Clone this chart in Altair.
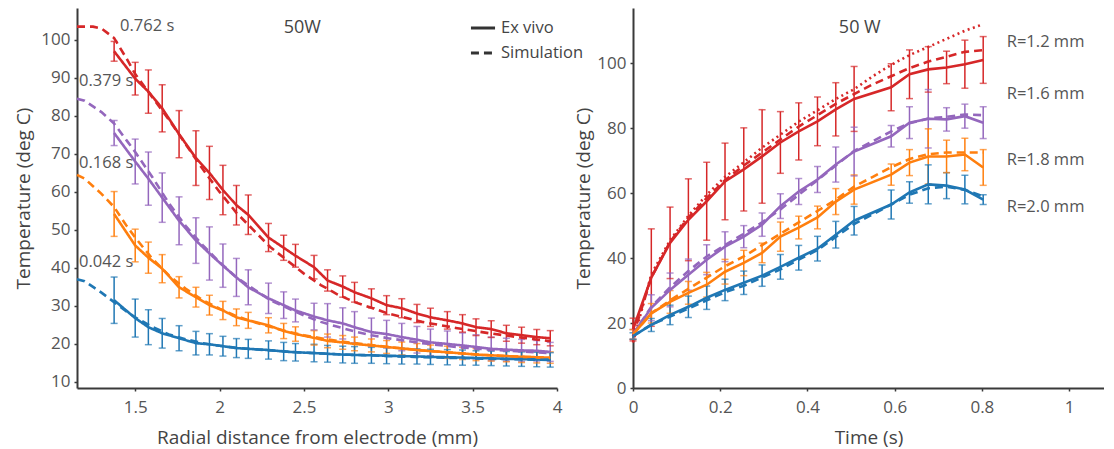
import altair as alt
import pandas as pd

FONT = "Open Sans"
SERIES = ["blue", "orange", "purple", "red"]
PALETTE = ["#1f77b4", "#ff7f0e", "#9467bd", "#d62728"]

# ---------------- left panel: temperature vs radial distance ----------------
radial_x = [1.375, 1.50, 1.578, 1.66, 1.76, 1.86, 1.94, 2.02, 2.10, 2.17,
            2.29, 2.38, 2.45, 2.56, 2.64, 2.73, 2.80, 2.90, 2.99, 3.08,
            3.17, 3.25, 3.35, 3.44, 3.52, 3.61, 3.70, 3.79, 3.88, 3.96]

red_ex = [97, 89.8, 86.4, 82, 75.2, 68.9, 65, 60.5, 56.5, 54,
          48, 45.3, 43.2, 40.2, 36.7, 35.1, 33.6, 32, 30.2, 29.4,
          28, 27, 26.2, 25.4, 24.4, 23.9, 22.8, 22.3, 21.8, 21.5]
red_err = [2.6, 4.3, 5.7, 6.2, 6.2, 7.2, 7, 6.5, 5.2, 5.2,
           3.7, 3.3, 3, 3.1, 2.8, 2.8, 2.6, 2.5, 2.5, 2.5,
           2.4, 2.4, 2.3, 2.3, 2.2, 2.2, 2.1, 2.1, 2.0, 2.0]
purple_ex = [75.5, 68, 63.5, 58.5, 52.4, 47.2, 43.8, 40.6, 37.5, 34.9,
             32, 30.2, 28.8, 27.2, 26.2, 25.4, 24.4, 23.1, 22.6, 21.8,
             21.1, 20.4, 20, 19.6, 19.2, 18.7, 18.5, 18.3, 18.2, 17.9]
purple_err = [3.3, 5.9, 7, 6.5, 6.3, 6, 7, 5.7, 5, 4.6,
              4, 3.5, 3, 3.5, 4.4, 4.1, 4.1, 3.7, 3.6, 3.6,
              3.5, 3.5, 3.4, 3.3, 3.2, 3.1, 3, 2.9, 2.7, 2.5]
orange_ex = [54.2, 45.9, 42.7, 39.8, 34.9, 32.3, 30.2, 28.8, 27, 26.2,
             24.9, 23.4, 22.6, 21.6, 20.8, 20.4, 20, 19.6, 19.2, 18.8,
             18.4, 18.1, 17.8, 17.5, 17.2, 17, 16.8, 16.6, 16.5, 16.4]
orange_err = [5.9, 4.3, 4.1, 3.7, 2.8, 2.6, 2.6, 2.4, 2.2, 2.1,
              2, 2, 1.9, 1.9, 1.8, 1.8, 1.8, 1.7, 1.7, 1.7,
              1.7, 1.6, 1.6, 1.6, 1.6, 1.5, 1.5, 1.5, 1.5, 1.5]
blue_ex = [31.5, 26.8, 24.4, 22.8, 21.5, 20.2, 19.9, 19.4, 18.9, 18.7,
           18.4, 18, 17.8, 17.6, 17.4, 17.2, 17.1, 17, 16.9, 16.8,
           16.7, 16.6, 16.5, 16.4, 16.3, 16.2, 16.1, 16.0, 15.9, 15.8]
blue_err = [6.1, 5, 4.6, 3.9, 3.3, 3.1, 2.8, 2.6, 2.5, 2.5,
            2.4, 2.4, 2.3, 2.3, 2.2, 2.2, 2.2, 2.1, 2.1, 2.1,
            2.0, 2.0, 2.0, 2.0, 1.9, 1.9, 1.9, 1.9, 1.9, 1.9]

radial_sim_x = [1.155, 1.2, 1.25, 1.3, 1.375, 1.45, 1.5, 1.6, 1.7, 1.8,
                1.9, 2.0, 2.1, 2.2, 2.3, 2.4, 2.5, 2.6, 2.7, 2.8,
                2.9, 3.0, 3.2, 3.4, 3.6, 3.8, 3.96]
red_sim = [103.5, 103.5, 103.5, 103, 100.5, 95, 91, 85, 79, 72.5,
           66, 60, 54.5, 50, 45.5, 42, 38.5, 35.5, 33, 31,
           29.5, 28, 25.8, 24.2, 22.8, 21.6, 20.7]
purple_sim = [84.5, 84, 82.5, 81, 78, 73.5, 70.5, 64, 57, 51,
              46, 41.5, 37.5, 34.5, 31.5, 29.5, 27.5, 25.8, 24.5, 23.3,
              22.3, 21.5, 20.2, 19.2, 18.5, 18, 17.6]
orange_sim = [64.5, 63.5, 61.5, 59.5, 56, 51, 48, 42.5, 38, 34.5,
              31.5, 29.3, 27.3, 25.8, 24.5, 23.3, 22.3, 21.5, 20.8, 20.2,
              19.7, 19.2, 18.3, 17.6, 17, 16.6, 16.3]
blue_sim = [37, 36.5, 35, 33.5, 31, 28.5, 27, 24.5, 22.5, 21.2,
            20.2, 19.5, 19, 18.6, 18.3, 18, 17.7, 17.5, 17.3, 17.1,
            17, 16.8, 16.5, 16.3, 16.1, 15.9, 15.8]

time_labels = ["0.762 s", "0.379 s", "0.168 s", "0.042 s"]
time_label_x = [1.41, 1.167, 1.167, 1.167]
time_label_y = [103.7, 89.2, 67.6, 41.6]

# ---------------- right panel: temperature vs time ----------------
time_x = [0, 0.042, 0.085, 0.127, 0.169, 0.211, 0.254, 0.296, 0.338, 0.38,
          0.423, 0.465, 0.507, 0.592, 0.634, 0.677, 0.719, 0.761, 0.803]
r12_ex = [18, 34, 44.7, 51.8, 57.5, 63.6, 67.3, 71.3, 75.6, 79,
          82.1, 85.8, 89, 92.6, 96.6, 98.1, 98.7, 99.7, 101]
r12_err = [3.5, 15, 11, 12.6, 12, 11.8, 12.8, 14.4, 9.5, 8.8,
           7.5, 8.2, 10, 7.2, 7.5, 7, 5, 7.4, 7.2]
r16_ex = [16.5, 24.7, 30.2, 34.9, 39.5, 43.5, 46.6, 50.3, 56, 60.5,
          64.2, 68.8, 72.8, 77.5, 81.7, 82.9, 82.7, 83.7, 81.7]
r16_err = [1.5, 4, 5.2, 4.8, 4.6, 4.6, 3.4, 3.6, 3.8, 4,
           4, 5.4, 7.5, 3.3, 4.9, 9, 3.6, 3.7, 4.9]
r18_ex = [16.5, 23, 26.5, 29.3, 31.8, 35.8, 38.5, 41.6, 46.6, 49.4,
          52.5, 57.4, 61.1, 65.7, 69.4, 71.3, 71.3, 71.9, 67.9]
r18_err = [1.5, 3, 3.5, 3.5, 3.8, 3.8, 3.9, 3, 4.5, 3.5,
           3.5, 4, 4.5, 3.3, 4, 8.5, 5, 5, 5.5]
r20_ex = [16, 19.4, 22.5, 25, 27.8, 30.2, 32.4, 34.6, 37.3, 40.1,
          42.9, 47.2, 51.5, 56.5, 60.2, 62.7, 62.3, 61.1, 58]
r20_err = [1, 2, 3, 3.3, 3.6, 3.3, 3.6, 3.3, 3.8, 3.8,
           3.8, 4.1, 4.4, 4.5, 3.3, 6, 4, 4.4, 1.5]

time_sim_x = [0, 0.042, 0.085, 0.127, 0.169, 0.211, 0.254, 0.296, 0.338, 0.38,
              0.423, 0.465, 0.507, 0.55, 0.592, 0.634, 0.677, 0.719, 0.761, 0.803]
r12_sim = [16, 34, 45, 52.5, 58.5, 64, 68.5, 72.5, 76.5, 80.5,
           84, 87.5, 90.5, 93.5, 96, 98.5, 100.5, 102, 103.5, 104]
r12_sim_dotted = [14, 35, 45.5, 53, 59.5, 65, 69.5, 74, 78, 82,
                  85.5, 89, 92, 96, 99.5, 102.5, 105, 107.5, 110, 112]
r16_sim = [16.5, 25, 31, 36, 40.5, 44, 47.5, 51, 55, 59.5,
           64, 68.5, 73, 76, 79, 81.5, 83, 83.5, 84.2, 84]
r18_sim = [16.5, 23, 27, 30.5, 34, 37.5, 40.5, 44, 47.5, 51,
           54.5, 58, 62, 65, 68, 70.5, 72, 72.5, 72.5, 72.5]
r20_sim = [16, 19.5, 22, 24.5, 27, 29.5, 31.5, 34, 36.5, 39.5,
           42.5, 46.5, 50.5, 53.5, 56.5, 59.5, 61.5, 62, 61, 59]

radius_labels = ["R=1.2 mm", "R=1.6 mm", "R=1.8 mm", "R=2.0 mm"]
radius_label_x = [0.857, 0.857, 0.857, 0.857]
radius_label_y = [106.5, 90.5, 70.2, 55.7]

panel_titles = ["50W", "50 W"]

# ---------------- build tables ----------------
def ex_table(xs, groups):
    rows = []
    for s, means, errs in groups:
        for x, v, d in zip(xs, means, errs):
            rows.append({"x": x, "y": v, "lo": v - d, "hi": v + d,
                         "series": s, "type": "Ex vivo"})
    return pd.DataFrame(rows)


def sim_table(xs, groups, kind="Simulation"):
    rows = []
    for s, vals in groups:
        for x, v in zip(xs, vals):
            rows.append({"x": x, "y": v, "series": s, "type": kind})
    return pd.DataFrame(rows)


left_ex = ex_table(radial_x, [("red", red_ex, red_err), ("purple", purple_ex, purple_err),
                              ("orange", orange_ex, orange_err), ("blue", blue_ex, blue_err)])
left_sim = sim_table(radial_sim_x, [("red", red_sim), ("purple", purple_sim),
                                    ("orange", orange_sim), ("blue", blue_sim)])
left_lines = pd.concat([left_ex[["x", "y", "series", "type"]], left_sim], ignore_index=True)

right_ex = ex_table(time_x, [("red", r12_ex, r12_err), ("purple", r16_ex, r16_err),
                             ("orange", r18_ex, r18_err), ("blue", r20_ex, r20_err)])
right_sim = sim_table(time_sim_x, [("red", r12_sim), ("purple", r16_sim),
                                   ("orange", r18_sim), ("blue", r20_sim)])
right_dot = sim_table(time_sim_x, [("red", r12_sim_dotted)], kind="Simulation dotted")

left_text = pd.DataFrame({"x": time_label_x, "y": time_label_y, "label": time_labels})
right_text = pd.DataFrame({"x": radius_label_x, "y": radius_label_y, "label": radius_labels})
left_title = pd.DataFrame({"x": [2.49], "y": [103.1], "label": [panel_titles[0]]})
right_title = pd.DataFrame({"x": [0.52], "y": [110.8], "label": [panel_titles[1]]})

# ---------------- styling helpers ----------------
AX = dict(grid=False, domainColor="#3a3a3a", domainWidth=2, tickColor="#3a3a3a",
          tickSize=3, tickWidth=1.5, labelFontSize=17, labelColor="#555555",
          labelFont=FONT, titleFont=FONT, titleFontSize=19, titleColor="#444444",
          titleFontWeight="normal", labelFlush=False)

color = alt.Color("series:N", scale=alt.Scale(domain=SERIES, range=PALETTE), legend=None)


def panel(ex, lines_df, sim_df, dot_df, text_df, title_df, xdom, ydom, xvals, yvals,
          xtitle, legend, xfmt, ytitle_pad):
    xs = alt.Scale(domain=xdom, nice=False, zero=False)
    ys = alt.Scale(domain=ydom, nice=False, zero=False)
    xax = alt.Axis(values=xvals, format=xfmt, title=xtitle, labelPadding=8,
                   titlePadding=13, **AX)
    yax = alt.Axis(values=yvals, format="d", title="Temperature (deg C)",
                   labelPadding=4, titlePadding=ytitle_pad, **AX)

    def X(f):
        return alt.X(f, scale=xs, axis=xax)

    def Y(f):
        return alt.Y(f, scale=ys, axis=yax)

    base = alt.Chart(ex)
    rule = base.mark_rule(strokeWidth=1.5).encode(x=X("x:Q"), y=Y("lo:Q"), y2="hi:Q", color=color)
    tick_hi = base.mark_tick(orient="horizontal", size=7, thickness=1.5).encode(
        x=X("x:Q"), y=Y("hi:Q"), color=color)
    tick_lo = base.mark_tick(orient="horizontal", size=7, thickness=1.5).encode(
        x=X("x:Q"), y=Y("lo:Q"), color=color)
    layers = [rule, tick_hi, tick_lo]

    if legend:
        dash = alt.StrokeDash(
            "type:N",
            scale=alt.Scale(domain=["Ex vivo", "Simulation"], range=[[1, 0], [8, 5]]),
            legend=alt.Legend(title=None, orient="none", legendX=392, legendY=6,
                              symbolType="stroke", symbolStrokeColor="#333333",
                              symbolStrokeWidth=3, symbolSize=580,
                              labelFontSize=16.5, labelColor="#444444", labelFont=FONT,
                              rowPadding=2, padding=0, labelOffset=4))
        lines = alt.Chart(lines_df).mark_line(strokeWidth=2.6).encode(
            x=X("x:Q"), y=Y("y:Q"), color=color, strokeDash=dash, detail="series:N")
        layers.append(lines)
    else:
        solid = alt.Chart(ex).mark_line(strokeWidth=2.6).encode(
            x=X("x:Q"), y=Y("y:Q"), color=color, detail="series:N")
        dashed = alt.Chart(sim_df).mark_line(strokeWidth=2.6, strokeDash=[8, 5]).encode(
            x=X("x:Q"), y=Y("y:Q"), color=color, detail="series:N")
        dotted = alt.Chart(dot_df).mark_line(strokeWidth=2.6, strokeDash=[2, 3.5]).encode(
            x=X("x:Q"), y=Y("y:Q"), color=color)
        layers += [dashed, dotted, solid]

    txt = alt.Chart(text_df).mark_text(align="left", baseline="middle", fontSize=16.5,
                                       color="#555555", font=FONT).encode(
        x=X("x:Q"), y=Y("y:Q"), text="label:N")
    ttl = alt.Chart(title_df).mark_text(align="center", baseline="middle", fontSize=18,
                                        color="#444444", font=FONT).encode(
        x=X("x:Q"), y=Y("y:Q"), text="label:N")
    layers += [txt, ttl]
    return alt.layer(*layers)


left = panel(left_ex, left_lines, None, None, left_text, left_title,
             [1.155, 4.0], [8.4, 108.4], [1.5, 2, 2.5, 3, 3.5, 4],
             [10, 20, 30, 40, 50, 60, 70, 80, 90, 100],
             "Radial distance from electrode (mm)", True, "~g", 7).properties(width=480, height=380)

right = panel(right_ex, None, right_sim, right_dot, right_text, right_title,
              [0, 1.08], [0, 117], [0, 0.2, 0.4, 0.6, 0.8, 1],
              [0, 20, 40, 60, 80, 100], "Time (s)", False, "~g", 3).properties(width=471, height=380)

chart = alt.hconcat(left, right, spacing=76, bounds="flush").resolve_scale(
    strokeDash="independent").resolve_legend(strokeDash="independent").properties(
    padding={"left": 6, "top": 0, "right": 0, "bottom": 2}).configure_view(stroke=None)

chart.save("out.html", embed_options={"renderer": "svg", "actions": False})
